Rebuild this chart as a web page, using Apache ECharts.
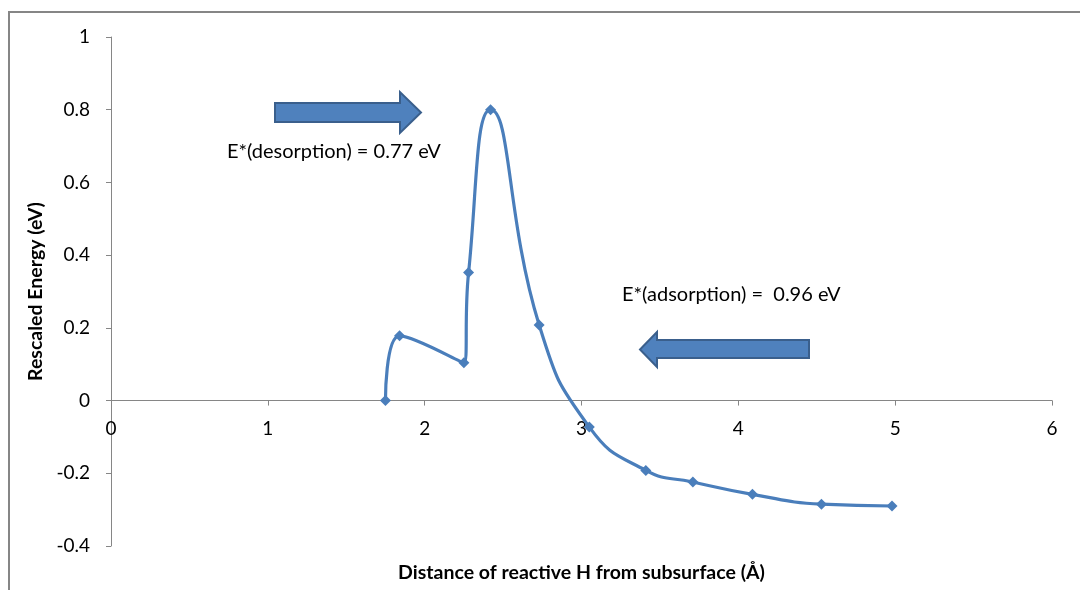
<!DOCTYPE html>
<html>
<head>
<meta charset="utf-8">
<script src="https://cdn.jsdelivr.net/npm/echarts@6/dist/echarts.min.js"></script>
<style>
  html, body { margin: 0; padding: 0; background: #fff; }
  #chart { width: 1080px; height: 590px; }
</style>
</head>
<body>
<div id="chart"></div>
<script>
// Energy profile of the reactive H along its distance from the subsurface
const distance = [1.75, 1.84, 2.25, 2.28, 2.42, 2.73, 3.05, 3.41, 3.71, 4.09, 4.53, 4.98];
const energy   = [0.00, 0.178, 0.104, 0.352, 0.80, 0.208, -0.073, -0.192, -0.224, -0.258, -0.285, -0.290];

const xTicks = { min: 0, max: 6, interval: 1 };
const yTicks = { min: -0.4, max: 1, interval: 0.2 };

const xTitle = 'Distance of reactive H from subsurface (Å)';
const yTitle = 'Rescaled Energy (eV)';
const noteDesorption = 'E*(desorption) = 0.77 eV';
const noteAdsorption = 'E*(adsorption) =  0.96 eV';

const FONT = 'Lato, "Open Sans", sans-serif';
const AXIS_GRAY = '#868686';
const BLUE = '#4A7EBB';

const GRID = { left: 111, right: 28, top: 37, bottom: 44 };
const PLOT_H = 590 - GRID.top - GRID.bottom;

// the horizontal axis sits on the y = 0 line: lift it from the grid bottom
const zeroLift = PLOT_H * (0 - yTicks.min) / (yTicks.max - yTicks.min);

const chart = echarts.init(document.getElementById('chart'), null, { renderer: 'canvas' });

const points = distance.map((x, i) => [x, energy[i]]);

chart.setOption({
  animation: false,
  backgroundColor: '#fff',
  grid: Object.assign({ containLabel: false, outerBoundsMode: 'none' }, GRID),
  xAxis: {
    type: 'value',
    position: 'bottom',
    offset: -zeroLift,
    min: xTicks.min, max: xTicks.max, interval: xTicks.interval,
    name: xTitle,
    nameLocation: 'middle',
    nameGap: 162,
    nameTextStyle: { fontFamily: FONT, fontWeight: 'bold', fontSize: 19.5, color: '#000' },
    axisLine: { onZero: false, lineStyle: { color: AXIS_GRAY, width: 1 } },
    axisTick: { show: true, length: 5, lineStyle: { color: AXIS_GRAY } },
    axisLabel: { fontFamily: FONT, fontSize: 19, color: '#000', margin: 19 },
    splitLine: { show: false }
  },
  yAxis: {
    type: 'value',
    min: yTicks.min, max: yTicks.max, interval: yTicks.interval,
    name: yTitle,
    nameLocation: 'middle',
    nameGap: 62,
    nameTextStyle: { fontFamily: FONT, fontWeight: 'bold', fontSize: 19.5, color: '#000' },
    axisLine: { show: true, onZero: false, lineStyle: { color: AXIS_GRAY, width: 1 } },
    axisTick: { show: true, length: 5, lineStyle: { color: AXIS_GRAY } },
    axisLabel: { fontFamily: FONT, fontSize: 19, color: '#000', margin: 21 },
    splitLine: { show: false }
  },
  series: [{
    type: 'line',
    data: points,
    smooth: 0.5,
    symbol: 'diamond',
    symbolSize: 11,
    lineStyle: { color: BLUE, width: 3.2 },
    itemStyle: { color: BLUE },
    z: 3
  }],
  graphic: [
    // chart frame (top and left edges)
    {
      type: 'rect', silent: true, z: 0,
      shape: { x: 9, y: 12, width: 1200, height: 700 },
      style: { fill: 'none', stroke: AXIS_GRAY, lineWidth: 2 }
    },
    // right-pointing block arrow
    {
      type: 'polygon', silent: true, z: 5,
      shape: { points: [[275, 103], [400, 103], [400, 92], [421, 112.5], [400, 133], [400, 122], [275, 122]] },
      style: { fill: '#4F81BD', stroke: '#3A5F8C', lineWidth: 2 }
    },
    {
      type: 'text', silent: true, z: 5,
      style: { x: 227, y: 152, text: noteDesorption, fontFamily: FONT, fontSize: 20, fill: '#000', verticalAlign: 'middle' }
    },
    // left-pointing block arrow
    {
      type: 'polygon', silent: true, z: 5,
      shape: { points: [[809, 340], [657, 340], [657, 332], [640, 349.5], [657, 367], [657, 358], [809, 358]] },
      style: { fill: '#4F81BD', stroke: '#3A5F8C', lineWidth: 2 }
    },
    {
      type: 'text', silent: true, z: 5,
      style: { x: 622, y: 295, text: noteAdsorption, fontFamily: FONT, fontSize: 20, fill: '#000', verticalAlign: 'middle' }
    }
  ]
});
</script>
</body>
</html>
